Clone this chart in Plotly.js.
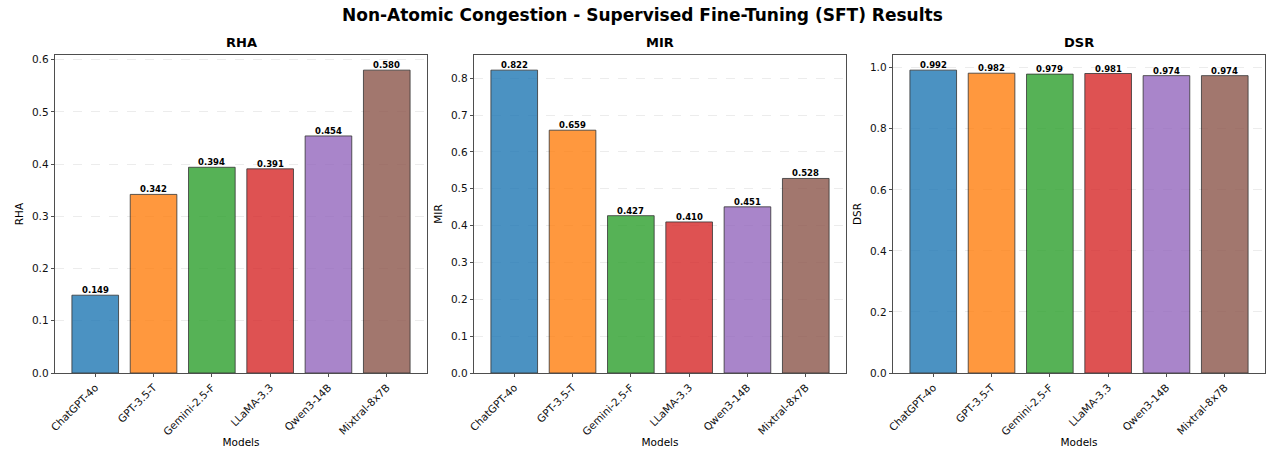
<!DOCTYPE html>
<html>
<head>
<meta charset="utf-8">
<script src="https://cdn.plot.ly/plotly-3.0.1.min.js"></script>
<style>
  html, body { margin: 0; padding: 0; background: #fff; }
  #chart { width: 1274px; height: 449px; }
</style>
</head>
<body>
<div id="chart"></div>
<script>
// Models evaluated
const models = ['ChatGPT-4o', 'GPT-3.5-T', 'Gemini-2.5-F', 'LLaMA-3.3', 'Qwen3-14B', 'Mixtral-8x7B'];

// Metric scores per model
const rha = [0.149, 0.342, 0.394, 0.391, 0.454, 0.580];
const mir = [0.822, 0.659, 0.427, 0.410, 0.451, 0.528];
const dsr = [0.992, 0.982, 0.979, 0.981, 0.974, 0.974];

const metricNames = ['RHA', 'MIR', 'DSR'];
const metricValues = [rha, mir, dsr];
const yTickSteps = [0.1, 0.1, 0.2];

const barColors = ['#1f77b4', '#ff7f0e', '#2ca02c', '#d62728', '#9467bd', '#8c564b'];

const W = 1274, H = 449;
const panelLeft = [55, 474, 893];
const panelWidth = 372;
const plotTop = 55, plotBottom = 373;
const FONT = 'DejaVu Sans, sans-serif';
const SPINE = '#222';

const traces = [];
const layout = {
  width: W, height: H,
  margin: {l: 0, r: 0, t: 0, b: 0},
  paper_bgcolor: '#fff', plot_bgcolor: '#fff',
  showlegend: false,
  font: {family: FONT, size: 10, color: '#000'},
  annotations: [{
    text: '<b>Non-Atomic Congestion - Supervised Fine-Tuning (SFT) Results</b>',
    xref: 'paper', yref: 'paper', x: 642 / W, y: 1 - 15 / H,
    xanchor: 'center', yanchor: 'middle', showarrow: false,
    font: {family: FONT, size: 17, color: '#000'}
  }]
};

metricNames.forEach((name, i) => {
  const vals = metricValues[i];
  const sfx = i === 0 ? '' : String(i + 1);
  const idx = models.map((_, k) => k);
  traces.push({
    type: 'bar',
    x: idx, y: vals,
    xaxis: 'x' + sfx, yaxis: 'y' + sfx,
    width: 0.8,
    marker: {color: barColors, opacity: 0.8, line: {color: '#000', width: 0.8}},
    hoverinfo: 'skip'
  });

  // value labels sitting just above each bar
  vals.forEach((v, k) => {
    layout.annotations.push({
      text: '<b>' + v.toFixed(3) + '</b>',
      xref: 'x' + sfx, yref: 'y' + sfx,
      x: k, y: v, xanchor: 'center', yanchor: 'bottom',
      yshift: -1, showarrow: false, borderpad: 0,
      font: {family: FONT, size: 8.5, color: '#000'}
    });
  });

  const ymax = Math.max(...vals) * 1.05;
  const x0 = panelLeft[i] / W, x1 = (panelLeft[i] + panelWidth) / W;
  const y0 = (H - plotBottom) / H, y1 = (H - plotTop) / H;

  layout['xaxis' + sfx] = {
    domain: [x0, x1], anchor: 'y' + sfx,
    range: [-0.69, models.length - 1 + 0.69],
    tickmode: 'array', tickvals: idx, ticktext: models,
    tickangle: -45,
    ticks: 'outside', ticklen: 3.5, tickwidth: 0.8, tickcolor: SPINE,
    showline: true, linecolor: SPINE, linewidth: 0.8, mirror: true,
    showgrid: false, zeroline: false,
    tickfont: {family: FONT, size: 10.5, color: '#111'},
    title: {text: 'Models', font: {family: FONT, size: 10.5, color: '#000'}, standoff: 1}
  };
  layout['yaxis' + sfx] = {
    domain: [y0, y1], anchor: 'x' + sfx,
    range: [0, ymax],
    tick0: 0, dtick: yTickSteps[i], tickformat: '.1f',
    ticks: 'outside', ticklen: 3.5, tickwidth: 0.8, tickcolor: SPINE,
    showline: true, linecolor: SPINE, linewidth: 0.8, mirror: true,
    showgrid: true, gridcolor: 'rgba(176,176,176,0.3)', griddash: 'dash', gridwidth: 0.8,
    zeroline: false,
    tickfont: {family: FONT, size: 10.5, color: '#111'},
    title: {text: name, font: {family: FONT, size: 10.5, color: '#000'}, standoff: 6}
  };

  layout.annotations.push({
    text: '<b>' + name + '</b>',
    xref: 'paper', yref: 'paper',
    x: (x0 + x1) / 2, y: 1 - 43 / H,
    xanchor: 'center', yanchor: 'middle', showarrow: false,
    font: {family: FONT, size: 13, color: '#000'}
  });
});

Plotly.newPlot('chart', traces, layout, {staticPlot: true, displayModeBar: false});
</script>
</body>
</html>
